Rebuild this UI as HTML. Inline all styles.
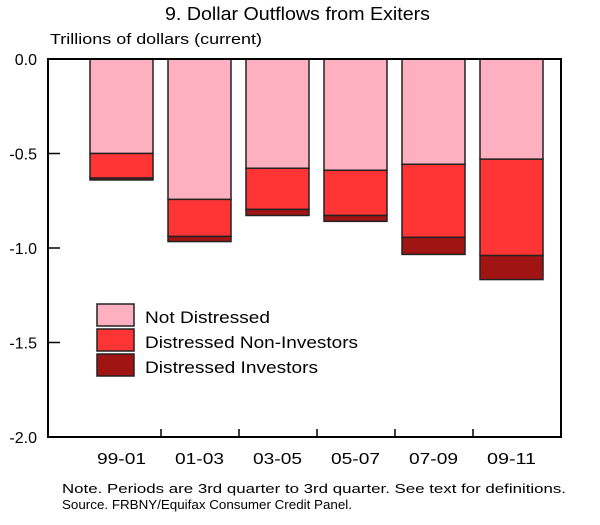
<!DOCTYPE html>
<html><head><meta charset="utf-8"><style>
body{margin:0;background:#fff;width:600px;height:520px;overflow:hidden}
svg text{font-family:"Liberation Sans",Arial,sans-serif;fill:#000}
</style></head><body>
<svg id="c" width="600" height="520"></svg>
<script>
const categories=["99-01","01-03","03-05","05-07","07-09","09-11"];
const notDistressed=[-0.50,-0.743,-0.578,-0.589,-0.557,-0.53];
const nonInvestors=[-0.13,-0.196,-0.218,-0.239,-0.387,-0.51];
const investors=[-0.01,-0.027,-0.032,-0.031,-0.09,-0.127];
const yTicks=[0,-0.5,-1,-1.5,-2];
const yTickLabels=["0.0","-0.5","-1.0","-1.5","-2.0"];
const L=48,R=561,T=59,B=437;
const y=v=>T+(0-v)/2*(B-T);
const x=i=>L+42+i*78;
const svg=document.getElementById('c');
const NS="http://www.w3.org/2000/svg";
function mk(tag,a,txt){const e=document.createElementNS(NS,tag);for(const k in a)e.setAttribute(k,a[k]);if(txt!=null)e.textContent=txt;svg.appendChild(e);return e;}
function tx(a,s){a.lengthAdjust='spacingAndGlyphs';return mk('text',a,s);}
let t=tx({x:165,y:20,'font-size':18,textLength:265},"9. Dollar Outflows from Exiters");

t=tx({x:50,y:44,'font-size':15,textLength:212},"Trillions of dollars (current)");

const cols=["#ffb0c0","#ff3535","#a01414"];
categories.forEach((c,i)=>{
  const segs=[notDistressed[i],nonInvestors[i],investors[i]];
  let base=0;
  segs.forEach((v,k)=>{
    const y0=y(base),y1=y(base+v);
    const r=mk('rect',{x:x(i),y:y0,width:63,height:y1-y0,fill:cols[k],stroke:'#222','stroke-width':1.5});
    
    
    base+=v;
  });
  const l=tx({x:x(i)+7,y:464,'font-size':16,textLength:49},c);
  
  if(i>0){const tk=mk('line',{x1:x(i)-7,x2:x(i)-7,y1:B,y2:B-8,stroke:'#000','stroke-width':1.5});
  }
});
yTicks.forEach((v,i)=>{
  const tk=mk('line',{x1:L,x2:L+12,y1:y(v),y2:y(v),stroke:'#000','stroke-width':1.5});
  
  const l=mk('text',{x:37,y:y(v)+6,'font-size':16,'text-anchor':'end'},yTickLabels[i]);
  
});
const fr=mk('rect',{x:L,y:T,width:R-L,height:B-T,fill:'none',stroke:'#000','stroke-width':2});

const names=["Not Distressed","Distressed Non-Investors","Distressed Investors"];
const nameLens=[125,213,173];
names.forEach((n,k)=>{
  const r=mk('rect',{x:97,y:304+k*25,width:37,height:22,fill:cols[k],stroke:'#222','stroke-width':1.5});
  
  const l=tx({x:145,y:323+k*25,'font-size':17,textLength:nameLens[k]},n);
  
});
t=tx({x:62,y:493,'font-size':13,textLength:504},"Note. Periods are 3rd quarter to 3rd quarter.  See text for definitions.");

t=tx({x:62,y:509,'font-size':13,textLength:290},"Source. FRBNY/Equifax Consumer Credit Panel.");

</script>
</body></html>
